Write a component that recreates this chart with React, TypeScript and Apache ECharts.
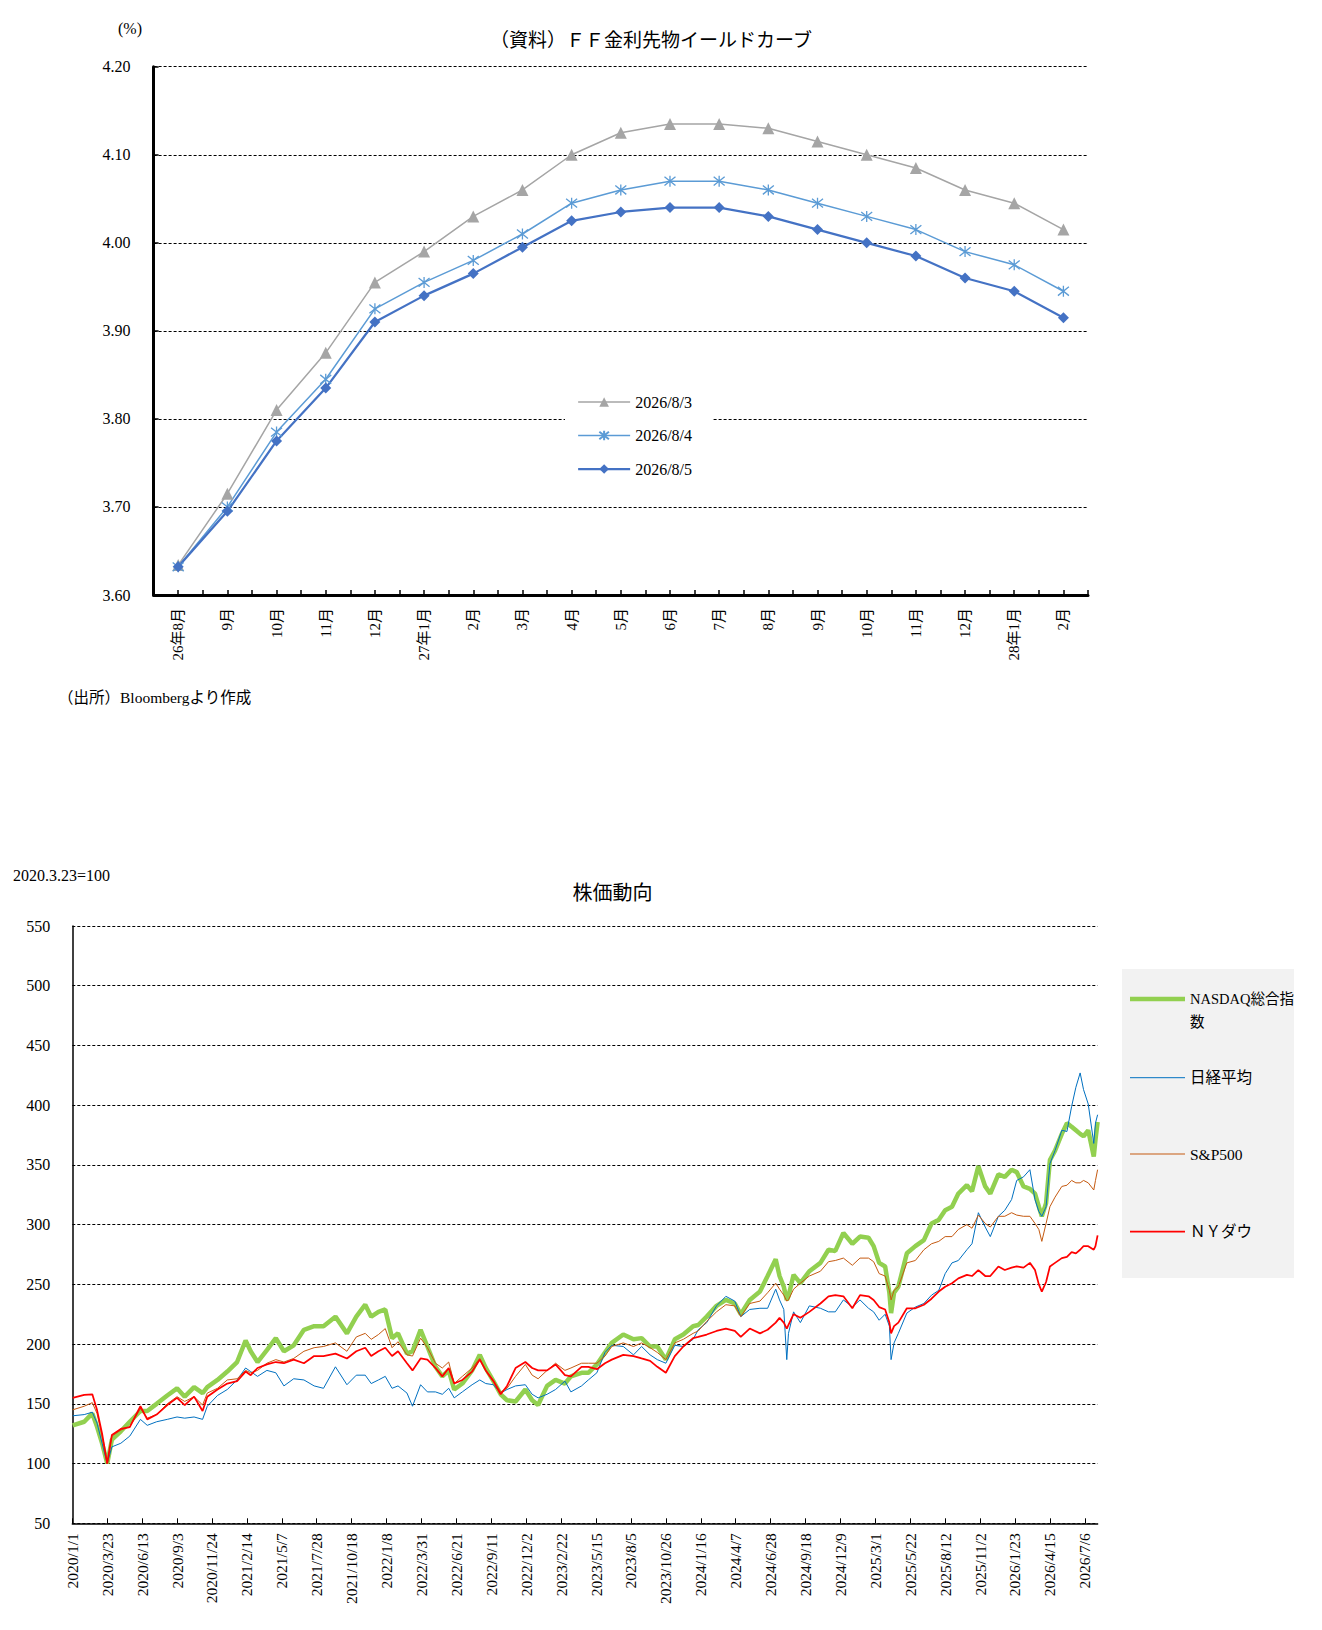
import React, { useEffect, useRef } from "react";
import * as echarts from "echarts";

const FONT = "'Liberation Serif', 'DejaVu Serif', 'Noto Sans CJK JP', serif";

// ---------- FF futures yield curve ----------
const curveCategories = [
  "26年8月", "9月", "10月", "11月", "12月", "27年1月", "2月", "3月", "4月", "5月",
  "6月", "7月", "8月", "9月", "10月", "11月", "12月", "28年1月", "2月",
];
const curve0803 = [3.634, 3.715, 3.81, 3.875, 3.955, 3.99, 4.03, 4.06, 4.1, 4.125, 4.135, 4.135, 4.13, 4.115, 4.1, 4.085, 4.06, 4.045, 4.015];
const curve0804 = [3.632, 3.7, 3.785, 3.845, 3.925, 3.955, 3.98, 4.01, 4.045, 4.06, 4.07, 4.07, 4.06, 4.045, 4.03, 4.015, 3.99, 3.975, 3.945];
const curve0805 = [3.632, 3.695, 3.775, 3.835, 3.91, 3.94, 3.965, 3.995, 4.025, 4.035, 4.04, 4.04, 4.03, 4.015, 4.0, 3.985, 3.96, 3.945, 3.915];

// ---------- Stock indices (2020.3.23 = 100) ----------
const stockDates = [
  "2020/1/2", "2020/1/29", "2020/2/17", "2020/2/28", "2020/3/11", "2020/3/23", "2020/4/3", "2020/4/24", "2020/5/15", "2020/6/9",
  "2020/6/25", "2020/7/17", "2020/8/11", "2020/9/3", "2020/9/21", "2020/10/13", "2020/11/2", "2020/11/13", "2020/12/7", "2020/12/30",
  "2021/1/22", "2021/2/11", "2021/2/23", "2021/3/11", "2021/4/2", "2021/4/23", "2021/5/12", "2021/6/4", "2021/6/28", "2021/7/22",
  "2021/8/13", "2021/9/10", "2021/10/7", "2021/10/29", "2021/11/19", "2021/12/3", "2021/12/20",
  "2022/1/5", "2022/1/21", "2022/2/4", "2022/2/25", "2022/3/10", "2022/3/29", "2022/4/14", "2022/5/3", "2022/5/19", "2022/6/3",
  "2022/6/16", "2022/7/5", "2022/7/28", "2022/8/15", "2022/8/29", "2022/9/16", "2022/10/3", "2022/10/18", "2022/11/7", "2022/11/30",
  "2022/12/16", "2022/12/30",
  "2023/1/20", "2023/2/9", "2023/3/3", "2023/3/17", "2023/4/11", "2023/4/27", "2023/5/17", "2023/6/5", "2023/6/21", "2023/7/18",
  "2023/8/11", "2023/8/30", "2023/9/19", "2023/10/6", "2023/10/26", "2023/11/16", "2023/12/6", "2023/12/29",
  "2024/1/10", "2024/1/30", "2024/2/22", "2024/3/15", "2024/4/5", "2024/4/19", "2024/5/10", "2024/6/3", "2024/6/21", "2024/7/10",
  "2024/7/19", "2024/7/29", "2024/8/5", "2024/8/9", "2024/8/21", "2024/9/6", "2024/9/27", "2024/10/23", "2024/11/11", "2024/11/27",
  "2024/12/16",
  "2025/1/6", "2025/1/24", "2025/2/13", "2025/2/25", "2025/3/10", "2025/3/24", "2025/4/3", "2025/4/7", "2025/4/14", "2025/4/24",
  "2025/5/14", "2025/6/3", "2025/6/23", "2025/7/11", "2025/7/28", "2025/8/12", "2025/8/28", "2025/9/12", "2025/10/2", "2025/10/14",
  "2025/10/29", "2025/11/14", "2025/11/26", "2025/12/15", "2025/12/30",
  "2026/1/15", "2026/1/27", "2026/2/12", "2026/2/27", "2026/3/11", "2026/3/20", "2026/3/27", "2026/4/6", "2026/4/15", "2026/4/27",
  "2026/5/13", "2026/5/25", "2026/6/5", "2026/6/15", "2026/6/25", "2026/7/3", "2026/7/14", "2026/7/27", "2026/7/31", "2026/8/5",
];
const nasdaq = [
  132, 135, 142, 131, 117, 100, 120, 127, 135, 144, 144, 150, 157, 163, 156, 164, 159, 164, 170, 177,
  185, 203, 194, 185, 195, 205, 194, 199, 212, 215, 215, 223, 209, 223, 233, 223, 227,
  229, 205, 209, 192, 194, 212, 198, 181, 173, 178, 162, 167, 178, 191, 180, 169, 158, 153, 152, 162, 153, 149,
  165, 170, 167, 173, 176, 176, 183, 193, 201, 208, 204, 205, 198, 198, 187, 204, 208, 215,
  216, 223, 232, 237, 234, 225, 237, 244, 257, 271, 257, 248, 237, 240, 258, 251, 261, 268, 279, 278, 293,
  284, 290, 289, 282, 268, 265, 243, 226, 243, 248, 276, 282, 287, 301, 304, 312, 315, 326, 333, 328, 349, 332, 326, 342, 340,
  346, 344, 332, 330, 326, 315, 307, 318, 354, 362, 376, 385, 382, 379, 376, 374, 379, 357, 371, 386,
];
const nikkei = [
  140, 141, 143, 134, 117, 100, 114, 117, 123, 137, 132, 135, 137, 139, 138, 139, 137, 148, 157, 162,
  170, 180, 177, 173, 178, 176, 165, 171, 170, 165, 163, 181, 166, 174, 174, 167, 170,
  173, 163, 165, 159, 148, 166, 160, 160, 158, 163, 155, 160, 166, 170, 167, 166, 159, 162, 165, 166, 158, 155,
  158, 162, 169, 160, 165, 170, 176, 193, 199, 198, 191, 198, 191, 187, 184, 199, 198, 204,
  212, 218, 232, 240, 236, 223, 229, 230, 230, 246, 237, 229, 187, 209, 227, 218, 232, 230, 227, 227, 237,
  231, 237, 230, 227, 220, 225, 215, 187, 201, 209, 226, 231, 234, 241, 245, 259, 268, 270, 279, 284, 310, 298, 290, 307, 312,
  321, 337, 340, 346, 321, 311, 307, 315, 351, 362, 379, 378, 399, 415, 427, 413, 401, 368, 385, 392,
];
const sp500 = [
  145, 148, 151, 142, 123, 100, 123, 128, 131, 146, 138, 141, 150, 156, 152, 156, 149, 159, 163, 170,
  171, 178, 176, 178, 184, 187, 185, 188, 194, 197, 198, 201, 194, 206, 209, 204, 208,
  213, 197, 202, 191, 190, 205, 197, 184, 180, 185, 167, 173, 180, 188, 178, 170, 160, 163, 173, 183, 174, 171,
  178, 184, 178, 180, 184, 184, 184, 190, 198, 201, 198, 201, 197, 193, 187, 201, 204, 209,
  211, 219, 227, 233, 232, 223, 234, 236, 243, 251, 246, 241, 236, 237, 246, 251, 257, 261, 269, 270, 272,
  266, 272, 272, 269, 259, 257, 245, 237, 245, 248, 268, 270, 279, 284, 286, 290, 290, 296, 300, 297, 308, 301, 298, 307, 307,
  310, 308, 307, 307, 301, 296, 286, 301, 315, 323, 332, 333, 337, 335, 335, 337, 335, 329, 337, 346,
];
const dow = [
  155, 157.5, 158, 145, 125, 100, 124, 129, 130.5, 148, 137, 141, 149, 155, 149, 156, 144, 156, 162, 167,
  169, 177, 174, 180, 183, 185, 184, 187, 184, 190, 190, 192, 188, 194, 197, 190, 194,
  197, 190, 194, 184, 178, 188, 187, 180, 173, 180, 167, 170, 177, 187, 178, 169, 158, 165, 180, 185, 180, 178,
  178, 183, 174, 173, 181, 181, 179, 184, 187, 191, 190, 188, 186, 181, 176, 190, 198, 205,
  206, 208, 211, 213, 211, 206, 213, 209, 212, 218, 222, 218, 213, 216, 225, 222, 227, 234, 240, 241, 240,
  230, 241, 240, 237, 231, 229, 218, 209, 215, 218, 230, 230, 233, 238, 244, 248, 251, 255, 258, 257, 262, 257, 257, 265, 262,
  264, 265, 264, 268, 262, 250, 244, 252, 265, 268, 272, 273, 277, 276, 279, 282, 282, 279, 282, 291,
];
const stockTickDates = [
  "2020/1/1", "2020/3/23", "2020/6/13", "2020/9/3", "2020/11/24", "2021/2/14", "2021/5/7", "2021/7/28", "2021/10/18", "2022/1/8",
  "2022/3/31", "2022/6/21", "2022/9/11", "2022/12/2", "2023/2/22", "2023/5/15", "2023/8/5", "2023/10/26", "2024/1/16", "2024/4/7",
  "2024/6/28", "2024/9/18", "2024/12/9", "2025/3/1", "2025/5/22", "2025/8/12", "2025/11/2", "2026/1/23", "2026/4/15", "2026/7/6",
];
const stockStart = "2020/1/1";
const stockEnd = "2026/8/5";

function dayIndex(s: string): number {
  const [y, m, d] = s.split("/").map(Number);
  const [y0, m0, d0] = stockStart.split("/").map(Number);
  return Math.round((Date.UTC(y, m - 1, d) - Date.UTC(y0, m0 - 1, d0)) / 86400000);
}

const STAR = "path://M1,1L9,9M9,1L1,9M5,0L5,10";

export default function App() {
  const ref = useRef<HTMLDivElement>(null);
  useEffect(() => {
    if (!ref.current) return;
    const chart = echarts.init(ref.current, undefined, { renderer: "svg" });
    const tickDays = stockTickDates.map(dayIndex);
    const tickLabel = new Map<number, string>();
    stockTickDates.forEach((s) => tickLabel.set(dayIndex(s), s));
    const toPairs = (arr: number[]) => stockDates.map((d, i) => [dayIndex(d), arr[i]]);
    const curvePairs = (arr: number[]) => arr.map((v, i) => [i, v]);
    const txt = { fontFamily: FONT, color: "#000" };

    const option: any = {
      animation: false,
      grid: [
        { left: 153.6, top: 66.7, width: 934.4, height: 528.3 },
        { left: 72.3, top: 926, width: 1025.3, height: 597.3 },
      ],
      xAxis: [
        {
          type: "value",
          gridIndex: 0,
          min: -0.5,
          max: 18.5,
          interval: 0.5,
          axisLine: { show: true, onZero: false, lineStyle: { color: "#000", width: 3 } },
          axisTick: { show: true, inside: true, length: 5, lineStyle: { color: "#000", width: 1.5 } },
          splitLine: { show: false },
          axisLabel: {
            ...txt,
            fontSize: 15,
            rotate: 90,
            margin: 13,
            formatter: (v: number) => {
              const r = Math.round(v);
              return Math.abs(v - r) < 1e-6 && r >= 0 && r < curveCategories.length ? curveCategories[r] : "";
            },
          },
        },
        {
          type: "value",
          gridIndex: 1,
          min: 0,
          max: dayIndex(stockEnd),
          interval: 82,
          axisLine: { show: true, onZero: false, lineStyle: { color: "#000", width: 1.5 } },
          axisTick: { show: true, inside: true, length: 5, customValues: tickDays, lineStyle: { color: "#000", width: 1 } },
          splitLine: { show: false },
          axisLabel: {
            ...txt,
            fontSize: 15.5,
            rotate: 90,
            margin: 10,
            customValues: tickDays,
            formatter: (v: number) => tickLabel.get(Math.round(v)) || "",
          },
        },
      ],
      yAxis: [
        {
          type: "value",
          gridIndex: 0,
          min: 3.6,
          max: 4.2,
          interval: 0.1,
          axisLine: { show: true, onZero: false, lineStyle: { color: "#000", width: 3 } },
          axisTick: { show: true, inside: true, length: 5, lineStyle: { color: "#000", width: 1.5 } },
          splitLine: { show: true, lineStyle: { color: "#000", width: 1, type: [3, 2] } },
          axisLabel: { ...txt, fontSize: 16, margin: 23, formatter: (v: number) => v.toFixed(2) },
        },
        {
          type: "value",
          gridIndex: 1,
          min: 50,
          max: 550,
          interval: 50,
          axisLine: { show: true, onZero: false, lineStyle: { color: "#000", width: 1.5 } },
          axisTick: { show: false },
          splitLine: { show: true, lineStyle: { color: "#000", width: 1, type: [3, 2] } },
          axisLabel: { ...txt, fontSize: 16, margin: 22 },
        },
      ],
      legend: {
        data: [
          { name: "2026/8/3", lineStyle: { width: 1.5, color: "#A5A5A5" } },
          { name: "2026/8/4", lineStyle: { width: 1.5, color: "#5B9BD5" } },
          { name: "2026/8/5", lineStyle: { width: 2.25, color: "#4472C4" } },
        ],
        orient: "vertical",
        left: 565,
        top: 388,
        itemWidth: 52,
        itemHeight: 12,
        itemGap: 17.5,
        padding: [6, 20, 6, 12],
        backgroundColor: "#fff",
        selectedMode: false,
        textStyle: { ...txt, fontSize: 16 },
      },
      series: [
        {
          name: "2026/8/3",
          type: "line",
          xAxisIndex: 0,
          yAxisIndex: 0,
          data: curvePairs(curve0803),
          symbol: "triangle",
          symbolSize: 12,
          lineStyle: { color: "#A5A5A5", width: 1.5 },
          itemStyle: { color: "#A5A5A5", borderWidth: 0 },
        },
        {
          name: "2026/8/4",
          type: "line",
          xAxisIndex: 0,
          yAxisIndex: 0,
          data: curvePairs(curve0804),
          symbol: STAR,
          symbolSize: 11,
          lineStyle: { color: "#5B9BD5", width: 1.5 },
          itemStyle: { color: "#5B9BD5", borderColor: "#5B9BD5", borderWidth: 1.3 },
        },
        {
          name: "2026/8/5",
          type: "line",
          xAxisIndex: 0,
          yAxisIndex: 0,
          data: curvePairs(curve0805),
          symbol: "diamond",
          symbolSize: 11,
          lineStyle: { color: "#4472C4", width: 2.25 },
          itemStyle: { color: "#4472C4", borderWidth: 0 },
        },
        {
          name: "NASDAQ総合指数",
          type: "line",
          xAxisIndex: 1,
          yAxisIndex: 1,
          data: toPairs(nasdaq),
          symbol: "none",
          lineStyle: { color: "#92D050", width: 4.5 },
        },
        {
          name: "日経平均",
          type: "line",
          xAxisIndex: 1,
          yAxisIndex: 1,
          data: toPairs(nikkei),
          symbol: "none",
          lineStyle: { color: "#0070C0", width: 1 },
        },
        {
          name: "S&P500",
          type: "line",
          xAxisIndex: 1,
          yAxisIndex: 1,
          data: toPairs(sp500),
          symbol: "none",
          lineStyle: { color: "#C55A11", width: 1 },
        },
        {
          name: "ＮＹダウ",
          type: "line",
          xAxisIndex: 1,
          yAxisIndex: 1,
          data: toPairs(dow),
          symbol: "none",
          lineStyle: { color: "#FF0000", width: 1.75 },
        },
      ],
      graphic: [
        { type: "text", x: 130, y: 28, style: { text: "(%)", fontSize: 16, fontFamily: FONT, fill: "#000", textAlign: "center", textVerticalAlign: "middle" } },
        { type: "text", x: 651, y: 40, style: { text: "（資料）ＦＦ金利先物イールドカーブ", fontSize: 19, fontFamily: FONT, fill: "#000", textAlign: "center", textVerticalAlign: "middle" } },
        { type: "text", x: 58, y: 697, style: { text: "（出所）Bloombergより作成", fontSize: 15.5, fontFamily: FONT, fill: "#000", textAlign: "left", textVerticalAlign: "middle" } },
        { type: "text", x: 13, y: 875, style: { text: "2020.3.23=100", fontSize: 16, fontFamily: FONT, fill: "#000", textAlign: "left", textVerticalAlign: "middle" } },
        { type: "text", x: 612.5, y: 893, style: { text: "株価動向", fontSize: 20, fontFamily: FONT, fill: "#000", textAlign: "center", textVerticalAlign: "middle" } },
        { type: "rect", shape: { x: 1122, y: 969, width: 172, height: 309 }, style: { fill: "#F2F2F2" } },
        { type: "line", shape: { x1: 1130, y1: 999, x2: 1185, y2: 999 }, style: { stroke: "#92D050", lineWidth: 4.5 } },
        { type: "text", x: 1190, y: 987.5, style: { text: "NASDAQ総合指\n数", fontSize: 14.5, lineHeight: 23, fontFamily: FONT, fill: "#000", textAlign: "left", textVerticalAlign: "top" } },
        { type: "line", shape: { x1: 1130, y1: 1077.7, x2: 1185, y2: 1077.7 }, style: { stroke: "#0070C0", lineWidth: 1 } },
        { type: "text", x: 1190, y: 1077.7, style: { text: "日経平均", fontSize: 15.5, fontFamily: FONT, fill: "#000", textAlign: "left", textVerticalAlign: "middle" } },
        { type: "line", shape: { x1: 1130, y1: 1154, x2: 1185, y2: 1154 }, style: { stroke: "#C55A11", lineWidth: 1 } },
        { type: "text", x: 1190, y: 1154, style: { text: "S&P500", fontSize: 15.5, fontFamily: FONT, fill: "#000", textAlign: "left", textVerticalAlign: "middle" } },
        { type: "line", shape: { x1: 1130, y1: 1231.7, x2: 1185, y2: 1231.7 }, style: { stroke: "#FF0000", lineWidth: 1.75 } },
        { type: "text", x: 1190, y: 1231.7, style: { text: "ＮＹダウ", fontSize: 15.5, fontFamily: FONT, fill: "#000", textAlign: "left", textVerticalAlign: "middle" } },
      ],
    };
    chart.setOption(option);
    return () => chart.dispose();
  }, []);

  return (
    <div
      ref={ref}
      style={{ position: "absolute", left: 0, top: 0, width: 1322, height: 1630, background: "#fff" }}
    />
  );
}
